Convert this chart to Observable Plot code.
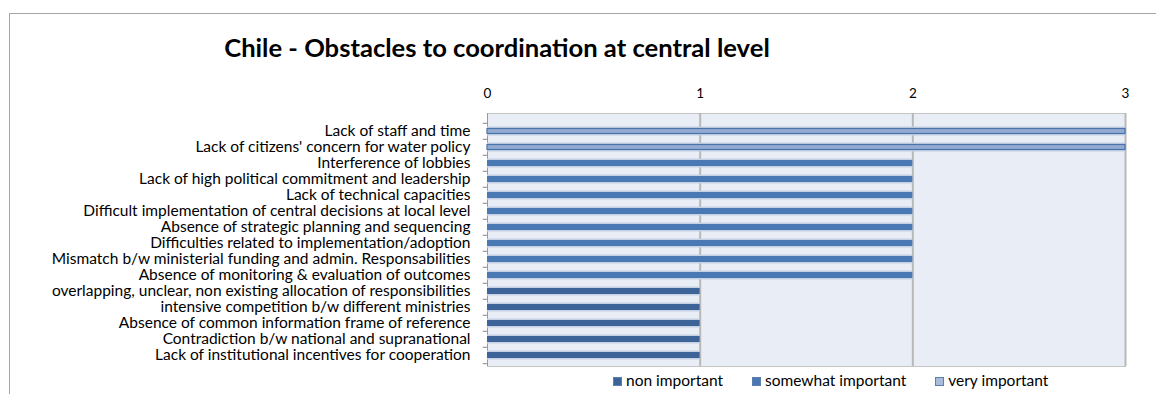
<!DOCTYPE html>
<html>
<head>
<meta charset="utf-8">
<script src="https://cdn.jsdelivr.net/npm/d3@7"></script>
<script src="https://cdn.jsdelivr.net/npm/@observablehq/plot@0.6"></script>
<style>
  html, body { margin: 0; padding: 0; background: #fff; }
  #wrap { position: relative; width: 1156px; height: 394px; overflow: hidden; font-family: Lato, "Open Sans", sans-serif; }
  #frame { position: absolute; left: 9px; top: 13px; width: 1300px; height: 500px; border: 1px solid #a6a6a6; box-sizing: border-box; }
  #title { position: absolute; left: 0; width: 994px; top: 32px; text-align: center; font-weight: bold; font-size: 25.6px; color: #000; line-height: 30px; }
  #chart { position: absolute; left: 0; top: 0; }
  #legend { position: absolute; left: 613px; top: 370px; font-size: 15.5px; color: #000; display: flex; gap: 29px; line-height: 20px; }
  #legend span.sw { display: inline-block; width: 9px; height: 9px; margin-right: 4px; border: 1px solid #5b7fb0; box-sizing: border-box; vertical-align: 0px; }
</style>
</head>
<body>
<div id="wrap">
  <div id="frame"></div>
  <div id="title"></div>
  <div id="chart"></div>
  <div id="legend"></div>
</div>
<script>
const titleText = "Chile - Obstacles to coordination at central level";
const categories = [
  "Lack of staff and time",
  "Lack of citizens' concern for water policy",
  "Interference of lobbies",
  "Lack of high political commitment and leadership",
  "Lack of technical capacities",
  "Difficult implementation of central decisions at local level",
  "Absence of strategic planning and sequencing",
  "Difficulties related to implementation/adoption",
  "Mismatch b/w ministerial funding and admin. Responsabilities",
  "Absence of monitoring & evaluation of outcomes",
  "overlapping, unclear, non existing allocation of responsibilities",
  "intensive competition b/w different ministries",
  "Absence of common information frame of reference",
  "Contradiction b/w national and supranational",
  "Lack of institutional incentives for cooperation"
];
const values = [3, 3, 2, 2, 2, 2, 2, 2, 2, 2, 1, 1, 1, 1, 1];
const seriesNames = ["non important", "somewhat important", "very important"];
const rowSeries = [
  "very important", "very important",
  "somewhat important", "somewhat important", "somewhat important", "somewhat important",
  "somewhat important", "somewhat important", "somewhat important", "somewhat important",
  "non important", "non important", "non important", "non important", "non important"
];
const seriesColors = ["#3d6499", "#4a78b2", "#a9bcdc"];
const xTicks = [0, 1, 2, 3];

const data = categories.map((c, i) => ({category: c, value: values[i], series: rowSeries[i]}));

document.getElementById("title").textContent = titleText;

const chart = Plot.plot({
  width: 1156,
  height: 394,
  marginLeft: 487,
  marginRight: 31,
  marginTop: 119,
  marginBottom: 28,
  x: {type: "linear", domain: [0, 3], axis: null},
  y: {domain: categories, axis: null, padding: 0},
  color: {domain: seriesNames, range: seriesColors},
  style: {fontFamily: "Lato, 'Open Sans', sans-serif", color: "#000", background: "transparent", overflow: "visible"},
  marks: [
    Plot.frame({fill: "#e9edf5", stroke: "#c4c4c4", insetTop: -6}),
    Plot.ruleX(xTicks.slice(1), {stroke: "#b8b8b8", strokeWidth: 2, insetTop: -6}),
    Plot.ruleX([0], {stroke: "#9a9a9a", strokeWidth: 1, insetTop: -6}),
    Plot.ruleY(categories, {y: d => d, dy: -8.2, x1: -0.02, x2: 0, stroke: "#8a8a8a"}),
    Plot.ruleY(categories.slice(-1), {y: d => d, dy: 8.2, x1: -0.02, x2: 0, stroke: "#8a8a8a"}),
    Plot.barX(data, {x: "value", y: "category", fill: "#c5d0e4", insetTop: 3.5, insetBottom: 3.5}),
    Plot.barX(data.filter(d => d.series !== "very important"), {x: "value", y: "category", fill: "series", insetTop: 5, insetBottom: 5}),
    Plot.barX(data.filter(d => d.series === "very important"), {x: "value", y: "category", fill: "#93abd3", stroke: "#4d74a9", strokeWidth: 1.2, insetTop: 5.5, insetBottom: 5.5}),
    Plot.axisY({tickSize: 0, tickPadding: 17, fontSize: 15.5, label: null}),
    Plot.text(xTicks, {x: d => d, text: d => String(d), frameAnchor: "top", dy: -31, fontSize: 13.5})
  ]
});
document.getElementById("chart").appendChild(chart);

const legend = document.getElementById("legend");
seriesNames.forEach((name, i) => {
  const item = document.createElement("div");
  const sw = document.createElement("span");
  sw.className = "sw";
  sw.style.background = seriesColors[i];
  item.appendChild(sw);
  item.appendChild(document.createTextNode(name));
  legend.appendChild(item);
});
</script>
</body>
</html>
